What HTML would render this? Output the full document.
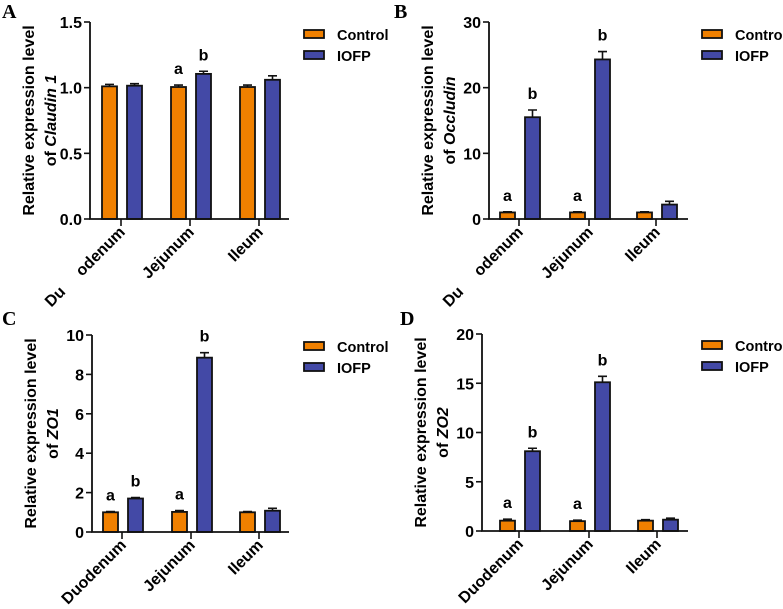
<!DOCTYPE html>
<html><head><meta charset="utf-8"><style>
body{margin:0;background:#fff;}
svg{display:block;font-family:"Liberation Sans",Arial,sans-serif;}
</style></head><body>
<svg id="fig" width="783" height="609" viewBox="0 0 783 609" xmlns="http://www.w3.org/2000/svg"></svg>
<script>
const categories = ["Duodenum","Jejunum","Ileum"];
const seriesNames = ["Control","IOFP"];
const aControl = [1.01,1.005,1.005], aIOFP = [1.015,1.105,1.06];
const aControlErr = [0.015,0.015,0.015], aIOFPErr = [0.015,0.02,0.03];
const aLetters = [["",""],["a","b"],["",""]];
const aTicks = ["0.0","0.5","1.0","1.5"], aTickVals=[0,0.5,1,1.5];
const bControl = [1,1,1], bIOFP = [15.5,24.3,2.2];
const bControlErr = [0.1,0.1,0.1], bIOFPErr = [1.1,1.2,0.5];
const bLetters = [["a","b"],["a","b"],["",""]];
const bTicks = ["0","10","20","30"], bTickVals=[0,10,20,30];
const cControl = [1.0,1.02,1.0], cIOFP = [1.7,8.85,1.08];
const cControlErr = [0.04,0.07,0.04], cIOFPErr = [0.05,0.25,0.12];
const cLetters = [["a","b"],["a","b"],["",""]];
const cTicks = ["0","2","4","6","8","10"], cTickVals=[0,2,4,6,8,10];
const dControl = [1.05,1.0,1.05], dIOFP = [8.1,15.1,1.15];
const dControlErr = [0.15,0.1,0.1], dIOFPErr = [0.3,0.6,0.15];
const dLetters = [["a","b"],["a","b"],["",""]];
const dTicks = ["0","5","10","15","20"], dTickVals=[0,5,10,15,20];

const NS="http://www.w3.org/2000/svg";
const svg=document.getElementById('fig');
function el(tag,attrs,parent,text){const e=document.createElementNS(NS,tag);for(const k in attrs)e.setAttribute(k,attrs[k]);if(text!==undefined)e.textContent=text;(parent||svg).appendChild(e);return e;}

const panels=[
 {id:"a",letter:"A",lx:2,ly:18,ax:90,top:22,bot:219,xEnd:289,ticksX:[121,190,259],max:1.5,ctrl:aControl,iofp:aIOFP,ce:aControlErr,ie:aIOFPErr,letters:aLetters,tl:aTicks,tv:aTickVals,gene:"Claudin 1",split:true,legX:304,legY:30},
 {id:"b",letter:"B",lx:394,ly:18,ax:489,top:22,bot:219,xEnd:688,ticksX:[519,589,656],max:30,ctrl:bControl,iofp:bIOFP,ce:bControlErr,ie:bIOFPErr,letters:bLetters,tl:bTicks,tv:bTickVals,gene:"Occludin",split:true,legX:702,legY:30},
 {id:"c",letter:"C",lx:2,ly:325,ax:92,top:335,bot:532,xEnd:289,ticksX:[122,191,259],max:10,ctrl:cControl,iofp:cIOFP,ce:cControlErr,ie:cIOFPErr,letters:cLetters,tl:cTicks,tv:cTickVals,gene:"ZO1",split:false,legX:304,legY:342},
 {id:"d",letter:"D",lx:400,ly:325,ax:482,top:334,bot:531,xEnd:688,ticksX:[519,589,657],max:20,ctrl:dControl,iofp:dIOFP,ce:dControlErr,ie:dIOFPErr,letters:dLetters,tl:dTicks,tv:dTickVals,gene:"ZO2",split:false,legX:702,legY:341}
];
const colors=["#f08000","#4349a6"];

panels.forEach(p=>{
 const g=el('g',{});
 
 
 const y=v=>p.bot-(v/p.max)*(p.bot-p.top);
 const pl=el('text',{x:p.lx,y:p.ly,'font-family':'Liberation Serif,serif','font-weight':'bold','font-size':20},g,p.letter);
 
 
 const cy=(p.top+p.bot)/2;
 const t1=el('text',{x:0,y:0,transform:`translate(${p.ax-56},${cy}) rotate(-90)`,'text-anchor':'middle','font-weight':'bold','font-size':16},g,'Relative expression level');
 
 
 const t2=el('text',{x:0,y:0,transform:`translate(${p.ax-34},${cy}) rotate(-90)`,'text-anchor':'middle','font-weight':'bold','font-size':16},g);
 
 
 el('tspan',{},t2,'of ');el('tspan',{'font-style':'italic'},t2,p.gene);
 categories.forEach((c,i)=>{
  const tx=p.ticksX[i];
  [[p.ctrl,p.ce,tx-19],[p.iofp,p.ie,tx+6]].forEach((s,si)=>{
   const v=s[0][i],e=s[1][i],x0=s[2];
   const ey=y(v+e);
   const er=el('path',{d:`M${x0+7.5},${y(v)} V${ey} M${x0+3},${ey} H${x0+12}`,stroke:'#111','stroke-width':1.6,fill:'none'},g);
   
   
   const r=el('rect',{x:x0,y:y(v),width:15,height:p.bot-y(v),fill:colors[si],stroke:'#111','stroke-width':1.8},g);
   
   
   const L=p.letters[i][si];
   if(L){const lt=el('text',{x:x0+7.5,y:ey-11,'text-anchor':'middle','font-weight':'bold','font-size':16},g,L);
    
    }
  });
  el('line',{x1:tx,x2:tx,y1:p.bot,y2:p.bot+7,stroke:'#111','stroke-width':1.6},g);
  let label=c;
  if(p.split&&i===0)label="Du     odenum";
  const xl=el('text',{x:0,y:0,transform:`translate(${tx+5},${p.bot+14}) rotate(-45)`,'text-anchor':'end','font-weight':'bold','font-size':16,'xml:space':'preserve',style:'white-space:pre'},g,label);
  
  
 });
 const axes=el('path',{d:`M${p.ax},${p.top} V${p.bot} H${p.xEnd}`,stroke:'#111','stroke-width':1.8,fill:'none'},g);
 
 
 p.tv.forEach((v,k)=>{
  el('line',{x1:p.ax-6,x2:p.ax,y1:y(v),y2:y(v),stroke:'#111','stroke-width':1.6},g);
  const tl=el('text',{x:p.ax-8,y:y(v)+6,'text-anchor':'end','font-weight':'bold','font-size':16},g,p.tl[k]);
  
  
 });
 seriesNames.forEach((n,si)=>{
  const yy=p.legY+si*21;
  const sw=el('rect',{x:p.legX,y:yy,width:20,height:8,fill:colors[si],stroke:'#111','stroke-width':1.8},g);
  
  
  const lt=el('text',{x:p.legX+33,y:yy+10,'font-weight':'bold','font-size':14.5},g,n);
  
  
 });
});
</script>
</body></html>
